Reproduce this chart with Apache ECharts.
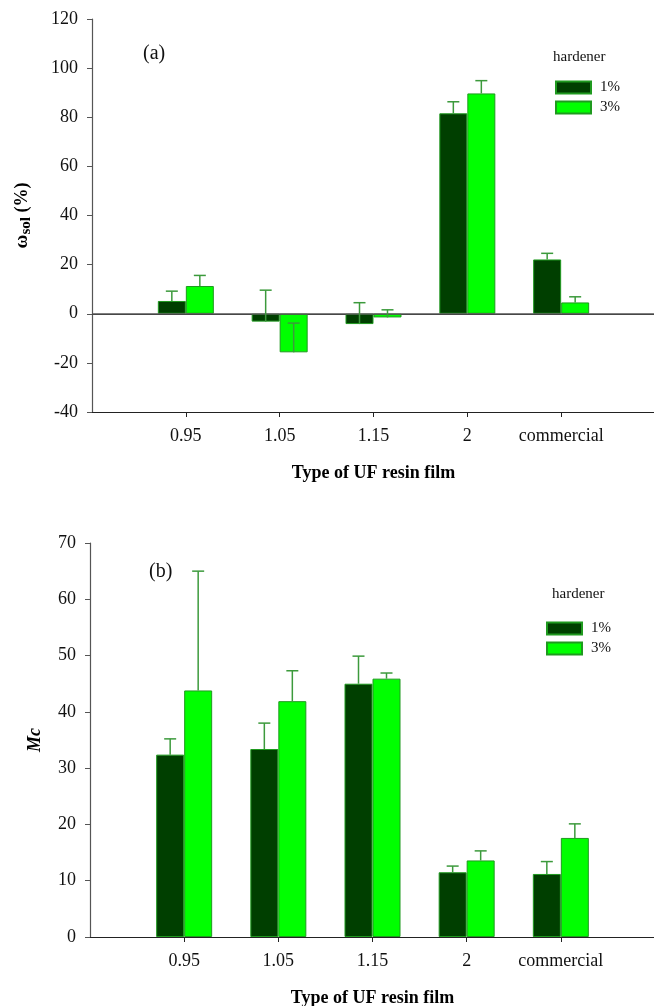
<!DOCTYPE html>
<html><head><meta charset="utf-8">
<script src="https://cdn.jsdelivr.net/npm/echarts@6/dist/echarts.min.js"></script>
<style>html,body{margin:0;padding:0;background:#fff}#c{width:654px;height:1006px}</style>
</head><body><div id="c"></div>
<script>
// ---------- data ----------
const categories = ['0.95', '1.05', '1.15', '2', 'commercial'];
const seriesNames = ['1%', '3%'];
// (a) omega_sol (%)
const solHard1 = [5.2, -3.2, -4.2, 81.6, 22.1];
const solHard1Err = [4.0, 12.8, 8.7, 4.7, 2.5];
const solHard3 = [11.3, -15.7, -1.5, 89.7, 4.6];
const solHard3Err = [4.3, 11.9, 3.1, 5.2, 2.3];
// (b) Mc
const mcHard1 = [32.4, 33.4, 45.0, 11.5, 11.2];
const mcHard1Err = [2.8, 4.6, 4.9, 1.1, 2.2];
const mcHard3 = [43.8, 41.9, 45.9, 13.6, 17.6];
const mcHard3Err = [21.2, 5.4, 1.0, 1.7, 2.5];
const yRangeA = [-40, 120, 20];
const yRangeB = [0, 70, 10];

// ---------- styling ----------
const FONT = "'Liberation Serif','Times New Roman',serif";
const DARK = '#003f00', LIGHT = '#00ff00', EDGE = '#1f9a1f', ERR = '#3c9a3c';
const BARW = 28;
const axisCats = [''].concat(categories, [' ']);
const toPairs = (vals) => vals.map((v, i) => [i + 1, v]);
const toErr = (vals, errs) => vals.map((v, i) => [i + 1, v, errs[i]]);

function errSeries(name, g, vals, errs, offset) {
  return {
    type: 'custom', name: name, xAxisIndex: g * 2, yAxisIndex: g, z: 5, silent: true,
    data: toErr(vals, errs),
    renderItem: function (params, api) {
      const x = api.value(0), v = api.value(1), e = api.value(2);
      const p0 = api.coord([x, v]);
      const p1 = api.coord([x, v + e]);
      const cx = p0[0] + offset;
      const st = { stroke: ERR, lineWidth: 1.5 };
      return { type: 'group', children: [
        { type: 'line', shape: { x1: cx, y1: p0[1], x2: cx, y2: p1[1] }, style: st },
        { type: 'line', shape: { x1: cx - 6, y1: p1[1], x2: cx + 6, y2: p1[1] }, style: st }
      ]};
    }
  };
}
function barSeries(name, g, vals, color, extra) {
  return Object.assign({
    type: 'bar', name: name, xAxisIndex: g * 2, yAxisIndex: g,
    data: toPairs(vals), barWidth: BARW, barGap: '0%',
    itemStyle: { color: color, borderColor: EDGE, borderWidth: 1 }
  }, extra || {});
}
function xAxes(g) {
  return [{
    type: 'category', gridIndex: g, data: axisCats, boundaryGap: false, position: 'bottom',
    axisLine: { onZero: false, lineStyle: { color: '#222', width: 1.2 } },
    axisTick: { length: 5, interval: (i) => i > 0 && i < axisCats.length - 1, lineStyle: { color: '#222' } },
    axisLabel: { interval: 0, margin: 15, fontSize: 18, color: '#111', fontFamily: FONT },
    name: 'Type of UF resin film', nameLocation: 'middle', nameGap: 52,
    nameTextStyle: { fontSize: 18, fontWeight: 'bold', color: '#000', fontFamily: FONT },
    splitLine: { show: false }
  }, {
    type: 'category', gridIndex: g, data: axisCats, boundaryGap: false, position: 'top',
    axisLine: { lineStyle: { color: '#222', width: 1.2 } },
    axisTick: { show: false }, axisLabel: { show: false }, splitLine: { show: false }
  }];
}
function yAxis(g, r, name, nameStyle, gap) {
  return {
    type: 'value', gridIndex: g, min: r[0], max: r[1], interval: r[2],
    axisLine: { show: true, onZero: false, lineStyle: { color: '#555', width: 1.2 } },
    axisTick: { show: true, length: 5, lineStyle: { color: '#555' } },
    axisLabel: { margin: 14, fontSize: 18, color: '#111', fontFamily: FONT },
    splitLine: { show: false },
    name: name, nameLocation: 'middle', nameGap: gap, nameTextStyle: nameStyle
  };
}
function legend(left, top) {
  return { data: seriesNames, orient: 'vertical', left: left, top: top, padding: 0,
    itemWidth: 35, itemHeight: 12, itemGap: 5, icon: 'rect', selectedMode: false,
    textStyle: { fontSize: 15, color: '#111', fontFamily: FONT, padding: [0, 0, 0, 4] } };
}

const chart = echarts.init(document.getElementById('c'), null, { renderer: 'canvas' });
chart.setOption({
  animation: false,
  backgroundColor: '#fff',
  grid: [
    { left: 92, top: 19, width: 563, height: 393, containLabel: false, outerBoundsMode: 'none' },
    { left: 90, top: 543, width: 565, height: 394, containLabel: false, outerBoundsMode: 'none' }
  ],
  xAxis: xAxes(0).concat(xAxes(1)),
  yAxis: [
    yAxis(0, yRangeA, '{w|ω}{s|sol}{p| (%)}', {
      fontFamily: FONT, color: '#000',
      rich: {
        w: { fontSize: 19, fontWeight: 'bold', fontFamily: FONT },
        s: { fontSize: 15, fontWeight: 'bold', fontFamily: FONT, padding: [9, 0, 0, 0] },
        p: { fontSize: 18, fontWeight: 'bold', fontFamily: FONT }
      }
    }, 58),
    yAxis(1, yRangeB, 'Mc', { fontSize: 18, fontWeight: 'bold', fontStyle: 'italic', color: '#000', fontFamily: FONT }, 46)
  ],
  legend: [legend(555, 80), legend(546, 621)],
  graphic: [
    { type: 'text', left: 143, top: 44, style: { text: '(a)', font: '20px ' + FONT, fill: '#111' } },
    { type: 'text', left: 553, top: 50, style: { text: 'hardener', font: '15px ' + FONT, fill: '#111' } },
    { type: 'text', left: 149, top: 562, style: { text: '(b)', font: '20px ' + FONT, fill: '#111' } },
    { type: 'text', left: 552, top: 587, style: { text: 'hardener', font: '15px ' + FONT, fill: '#111' } }
  ],
  series: [
    barSeries(seriesNames[0], 0, solHard1, DARK, {
      markLine: { silent: true, symbol: 'none', label: { show: false },
        lineStyle: { color: '#555', width: 1.5, type: 'solid' }, data: [{ yAxis: 0 }] }
    }),
    barSeries(seriesNames[1], 0, solHard3, LIGHT),
    errSeries('err1a', 0, solHard1, solHard1Err, -BARW / 2),
    errSeries('err3a', 0, solHard3, solHard3Err, BARW / 2),
    barSeries(seriesNames[0], 1, mcHard1, DARK),
    barSeries(seriesNames[1], 1, mcHard3, LIGHT),
    errSeries('err1b', 1, mcHard1, mcHard1Err, -BARW / 2),
    errSeries('err3b', 1, mcHard3, mcHard3Err, BARW / 2)
  ]
});
</script></body></html>
